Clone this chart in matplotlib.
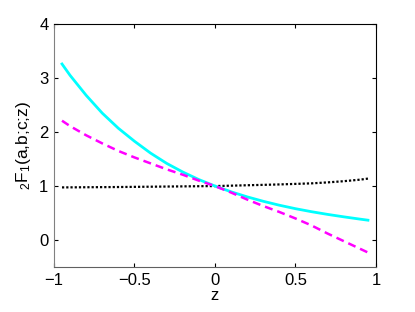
import matplotlib
matplotlib.use('Agg')
import matplotlib.pyplot as plt
import numpy as np

plt.rcParams['font.family'] = ['Liberation Sans', 'DejaVu Sans']
plt.rcParams['mathtext.default'] = 'regular'

# valores
z = [-0.95, -0.9, -0.8, -0.7, -0.6, -0.5, -0.4, -0.3, -0.2, -0.1, 0.0,
     0.1, 0.2, 0.3, 0.4, 0.5, 0.6, 0.7, 0.8, 0.9, 0.95]
f_cyan = [3.26, 3.05, 2.68, 2.35, 2.07, 1.83, 1.61, 1.42, 1.26, 1.12, 1.0,
          0.894, 0.80, 0.718, 0.645, 0.581, 0.525, 0.475, 0.43, 0.388, 0.368]
f_mag = [2.21, 2.11, 1.94, 1.79, 1.65, 1.53, 1.42, 1.31, 1.21, 1.10, 1.0,
         0.88, 0.75, 0.63, 0.52, 0.40, 0.27, 0.12, -0.02, -0.16, -0.23]
f_blk = [0.975, 0.976, 0.978, 0.980, 0.982, 0.985, 0.988, 0.991, 0.994, 0.997, 1.0,
         1.007, 1.015, 1.022, 1.03, 1.04, 1.05, 1.068, 1.09, 1.118, 1.138]

xticks = [-1, -0.5, 0, 0.5, 1]
yticks = [0, 1, 2, 3, 4]

fig = plt.figure(figsize=(4.15, 3.12), dpi=100)
ax = fig.add_axes([0.130, 0.144, 0.776, 0.779])

ax.plot(z, f_blk, color='black', lw=1.6, linestyle=(0, (1, 0.9)))
ax.plot(z, f_cyan, color='cyan', lw=2.0)
ax.plot(z, f_mag, color='magenta', lw=1.8, linestyle=(0, (3.2, 2.0)))

ax.set_xlim(-1, 1)
ax.set_ylim(-0.5, 4)
ax.set_xticks(xticks)
ax.set_xticklabels(['\u22121', '\u22120.5', '0', '0.5', '1'])
ax.set_yticks(yticks)
ax.tick_params(direction='in', top=True, right=True, labelsize=12, length=3, pad=4)
ax.spines['left'].set_color('#808080')
ax.spines['bottom'].set_color('#606060')
ax.set_xlabel('z', fontsize=12, labelpad=0)
ax.set_ylabel('$_2$F$_1$(a,b;c;z)', fontsize=12.5, labelpad=4)

plt.savefig('out.png', dpi=100)
